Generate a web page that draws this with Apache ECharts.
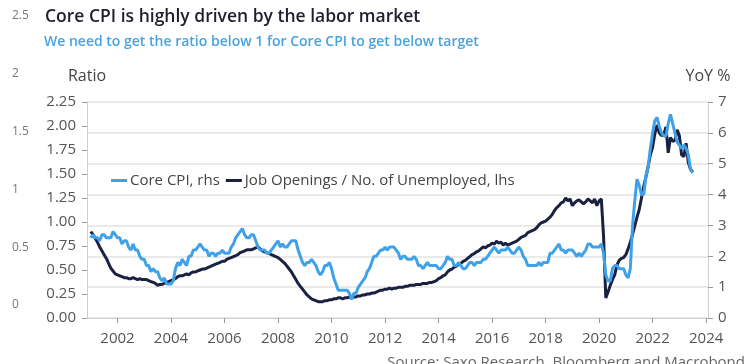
<!DOCTYPE html>
<html>
<head>
<meta charset="utf-8">
<script src="https://cdn.jsdelivr.net/npm/echarts@6/dist/echarts.min.js"></script>
<style>html,body{margin:0;padding:0;background:#fff}#c{width:750px;height:364px}</style>
</head>
<body>
<div id="c"></div>
<script>
// Monthly data starting Jan 2001
var startYear = 2001;
var coreCpi = [
 2.6,2.7,2.6,2.6,2.5,2.7,2.7,2.6,2.6,2.6,2.8,2.7,
 2.6,2.6,2.4,2.5,2.5,2.3,2.2,2.4,2.2,2.2,2.0,1.9,
 1.9,1.7,1.7,1.5,1.6,1.5,1.5,1.3,1.2,1.3,1.1,1.1,
 1.1,1.2,1.6,1.8,1.7,1.9,1.8,1.7,2.0,2.0,2.2,2.2,
 2.3,2.4,2.3,2.2,2.2,2.0,2.1,2.1,2.0,2.1,2.1,2.2,
 2.1,2.1,2.1,2.3,2.4,2.6,2.7,2.8,2.9,2.7,2.6,2.6,
 2.7,2.7,2.5,2.3,2.2,2.2,2.2,2.1,2.1,2.2,2.3,2.4,
 2.5,2.3,2.4,2.3,2.3,2.4,2.5,2.5,2.5,2.2,2.0,1.8,
 1.7,1.8,1.8,1.9,1.8,1.7,1.5,1.4,1.5,1.7,1.7,1.8,
 1.6,1.3,1.1,0.9,0.9,0.9,0.9,0.9,0.8,0.6,0.8,0.8,
 1.0,1.1,1.2,1.3,1.5,1.6,1.8,2.0,2.0,2.1,2.2,2.2,
 2.3,2.2,2.3,2.3,2.3,2.2,2.1,1.9,2.0,2.0,1.9,1.9,
 1.9,2.0,1.9,1.7,1.7,1.6,1.7,1.8,1.7,1.7,1.7,1.7,
 1.6,1.6,1.7,1.8,2.0,1.9,1.9,1.7,1.7,1.8,1.7,1.6,
 1.6,1.7,1.8,1.8,1.7,1.8,1.8,1.8,1.9,1.9,2.0,2.1,
 2.2,2.3,2.2,2.1,2.2,2.2,2.2,2.3,2.2,2.1,2.1,2.2,
 2.3,2.2,2.0,1.9,1.7,1.7,1.7,1.7,1.7,1.8,1.7,1.8,
 1.8,1.8,2.1,2.1,2.2,2.3,2.4,2.2,2.2,2.1,2.2,2.2,
 2.2,2.1,2.0,2.1,2.0,2.1,2.2,2.4,2.4,2.3,2.3,2.3,
 2.3,2.4,2.1,1.4,1.2,1.2,1.6,1.7,1.7,1.6,1.6,1.6,
 1.4,1.3,1.6,3.0,3.8,4.5,4.3,4.0,4.0,4.6,4.9,5.5,
 6.0,6.4,6.5,6.2,6.0,5.9,5.9,6.3,6.6,6.3,6.0,5.7,
 5.6,5.5,5.6,5.5,5.3,4.8,4.7
];
var jobRatio = [
 0.90,0.87,0.83,0.79,0.74,0.70,0.66,0.62,0.57,0.52,0.49,0.46,
 0.45,0.44,0.43,0.42,0.42,0.41,0.41,0.42,0.41,0.40,0.41,0.40,
 0.40,0.40,0.39,0.38,0.37,0.36,0.34,0.35,0.35,0.36,0.37,0.38,
 0.39,0.40,0.41,0.43,0.44,0.44,0.45,0.46,0.45,0.47,0.48,0.48,
 0.49,0.50,0.51,0.51,0.52,0.53,0.54,0.55,0.56,0.57,0.58,0.59,
 0.59,0.61,0.62,0.63,0.64,0.65,0.66,0.68,0.69,0.70,0.71,0.71,
 0.71,0.72,0.73,0.74,0.72,0.70,0.69,0.68,0.67,0.66,0.65,0.64,
 0.63,0.61,0.59,0.57,0.54,0.51,0.48,0.44,0.40,0.36,0.33,0.30,
 0.27,0.24,0.22,0.20,0.19,0.18,0.17,0.17,0.17,0.18,0.18,0.19,
 0.19,0.20,0.20,0.21,0.21,0.20,0.21,0.21,0.22,0.21,0.22,0.22,
 0.23,0.23,0.24,0.24,0.25,0.25,0.26,0.26,0.27,0.28,0.29,0.29,
 0.30,0.30,0.31,0.30,0.31,0.31,0.32,0.32,0.32,0.33,0.33,0.34,
 0.34,0.34,0.35,0.35,0.35,0.36,0.36,0.36,0.37,0.37,0.38,0.39,
 0.41,0.42,0.44,0.45,0.48,0.50,0.51,0.53,0.54,0.56,0.57,0.59,
 0.60,0.62,0.64,0.66,0.67,0.69,0.70,0.72,0.74,0.73,0.75,0.76,
 0.78,0.77,0.80,0.78,0.79,0.76,0.78,0.76,0.77,0.78,0.79,0.80,
 0.82,0.84,0.85,0.86,0.89,0.90,0.91,0.92,0.94,0.97,0.99,1.00,
 1.01,1.03,1.05,1.08,1.12,1.15,1.17,1.20,1.21,1.25,1.22,1.24,
 1.17,1.20,1.22,1.23,1.21,1.19,1.21,1.24,1.22,1.20,1.24,1.17,
 1.22,1.24,0.85,0.21,0.27,0.34,0.40,0.45,0.55,0.60,0.62,0.63,
 0.66,0.72,0.79,0.87,0.96,1.05,1.13,1.25,1.37,1.47,1.58,1.70,
 1.78,1.92,2.01,1.93,1.90,1.91,1.99,1.72,1.88,1.84,1.85,1.96,
 1.90,1.70,1.68,1.82,1.62,1.55,1.52
];
var yearTicks = [2002,2004,2006,2008,2010,2012,2014,2016,2018,2020,2022,2024];
var strayTicks = [0,0.5,1,1.5,2,2.5];

function toPairs(arr){ return arr.map(function(v,i){ return [startYear + i/12, v]; }); }

var FONT = 'Open Sans';
var chart = echarts.init(document.getElementById('c'), null, {renderer:'canvas'});
chart.setOption({
  animation:false,
  backgroundColor:'#fff',
  textStyle:{fontFamily:FONT},
  title:[
    {text:'Core CPI is highly driven by the labor market', left:40, top:3,
     textStyle:{fontFamily:FONT,fontSize:17.5,fontWeight:600,color:'#1e1e2c'}},
    {text:'We need to get the ratio below 1 for Core CPI to get below target', left:39, top:30,
     textStyle:{fontFamily:FONT,fontSize:14,fontWeight:600,color:'#48a3e0'}}
  ],
  legend:{
    left:106, top:168, itemWidth:16, itemHeight:3, itemGap:6, icon:'rect',
    data:['Core CPI, rhs','Job Openings / No. of Unemployed, lhs'],
    textStyle:{fontFamily:FONT,fontSize:15,color:'#444',padding:[0,0,0,-2]}
  },
  grid:[
    {left:87, right:42, top:102, bottom:46},
    {left:40, right:705, top:16, bottom:59}
  ],
  xAxis:[
    {type:'value', gridIndex:0, min:2000.86, max:2024.07,
     axisLine:{lineStyle:{color:'#cfcfcf'}},
     axisTick:{show:true, length:5, lineStyle:{color:'#999'}, customValues:yearTicks},
     axisLabel:{customValues:yearTicks, formatter:function(v){return String(v);}, margin:13,
                fontFamily:FONT, fontSize:15, color:'#555'},
     splitLine:{show:false}},
    {type:'value', gridIndex:1, min:0, max:1, show:false}
  ],
  yAxis:[
    {type:'value', gridIndex:0, min:0, max:2.25, interval:0.25, position:'left',
     name:'Ratio', nameLocation:'end', nameGap:18,
     nameTextStyle:{fontFamily:FONT,fontSize:16,color:'#444'},
     axisLine:{show:true,lineStyle:{color:'#cfcfcf'}},
     axisTick:{show:true,length:5,lineStyle:{color:'#999'}},
     axisLabel:{formatter:function(v){return v.toFixed(2);}, margin:11, fontFamily:FONT, fontSize:15, color:'#555'},
     splitLine:{show:false}},
    {type:'value', gridIndex:0, min:0, max:7, interval:1, position:'right',
     name:'YoY %', nameLocation:'end', nameGap:18,
     nameTextStyle:{fontFamily:FONT,fontSize:16,color:'#444'},
     axisLine:{show:true,lineStyle:{color:'#cfcfcf'}},
     axisTick:{show:true,length:5,lineStyle:{color:'#999'}},
     axisLabel:{margin:10, fontFamily:FONT, fontSize:15, color:'#555'},
     splitLine:{show:true,lineStyle:{color:'#e3e3e3',width:1.5}}},
    {type:'value', gridIndex:1, min:0, max:2.5, interval:0.5, position:'left',
     axisLine:{show:false}, axisTick:{show:false}, splitLine:{show:false},
     axisLabel:{align:'left', margin:28, fontFamily:FONT, fontSize:12, color:'#777',
                formatter:function(v){return String(v);}}}
  ],
  series:[
    {name:'Job Openings / No. of Unemployed, lhs', type:'line', xAxisIndex:0, yAxisIndex:0,
     data:toPairs(jobRatio), showSymbol:false, lineStyle:{color:'#1b2140',width:3}, itemStyle:{color:'#1b2140'}},
    {name:'Core CPI, rhs', type:'line', xAxisIndex:0, yAxisIndex:1,
     data:toPairs(coreCpi), showSymbol:false, lineStyle:{color:'#3fa1e8',width:3}, itemStyle:{color:'#3fa1e8'}},
    {name:'stray', type:'line', xAxisIndex:1, yAxisIndex:2, data:[], silent:true}
  ],
  graphic:[
    {type:'text', right:5, top:355, style:{text:'Source: Saxo Research, Bloomberg and Macrobond',
      fontFamily:FONT, fontSize:15, fill:'#666'}}
  ]
});
</script>
</body>
</html>
